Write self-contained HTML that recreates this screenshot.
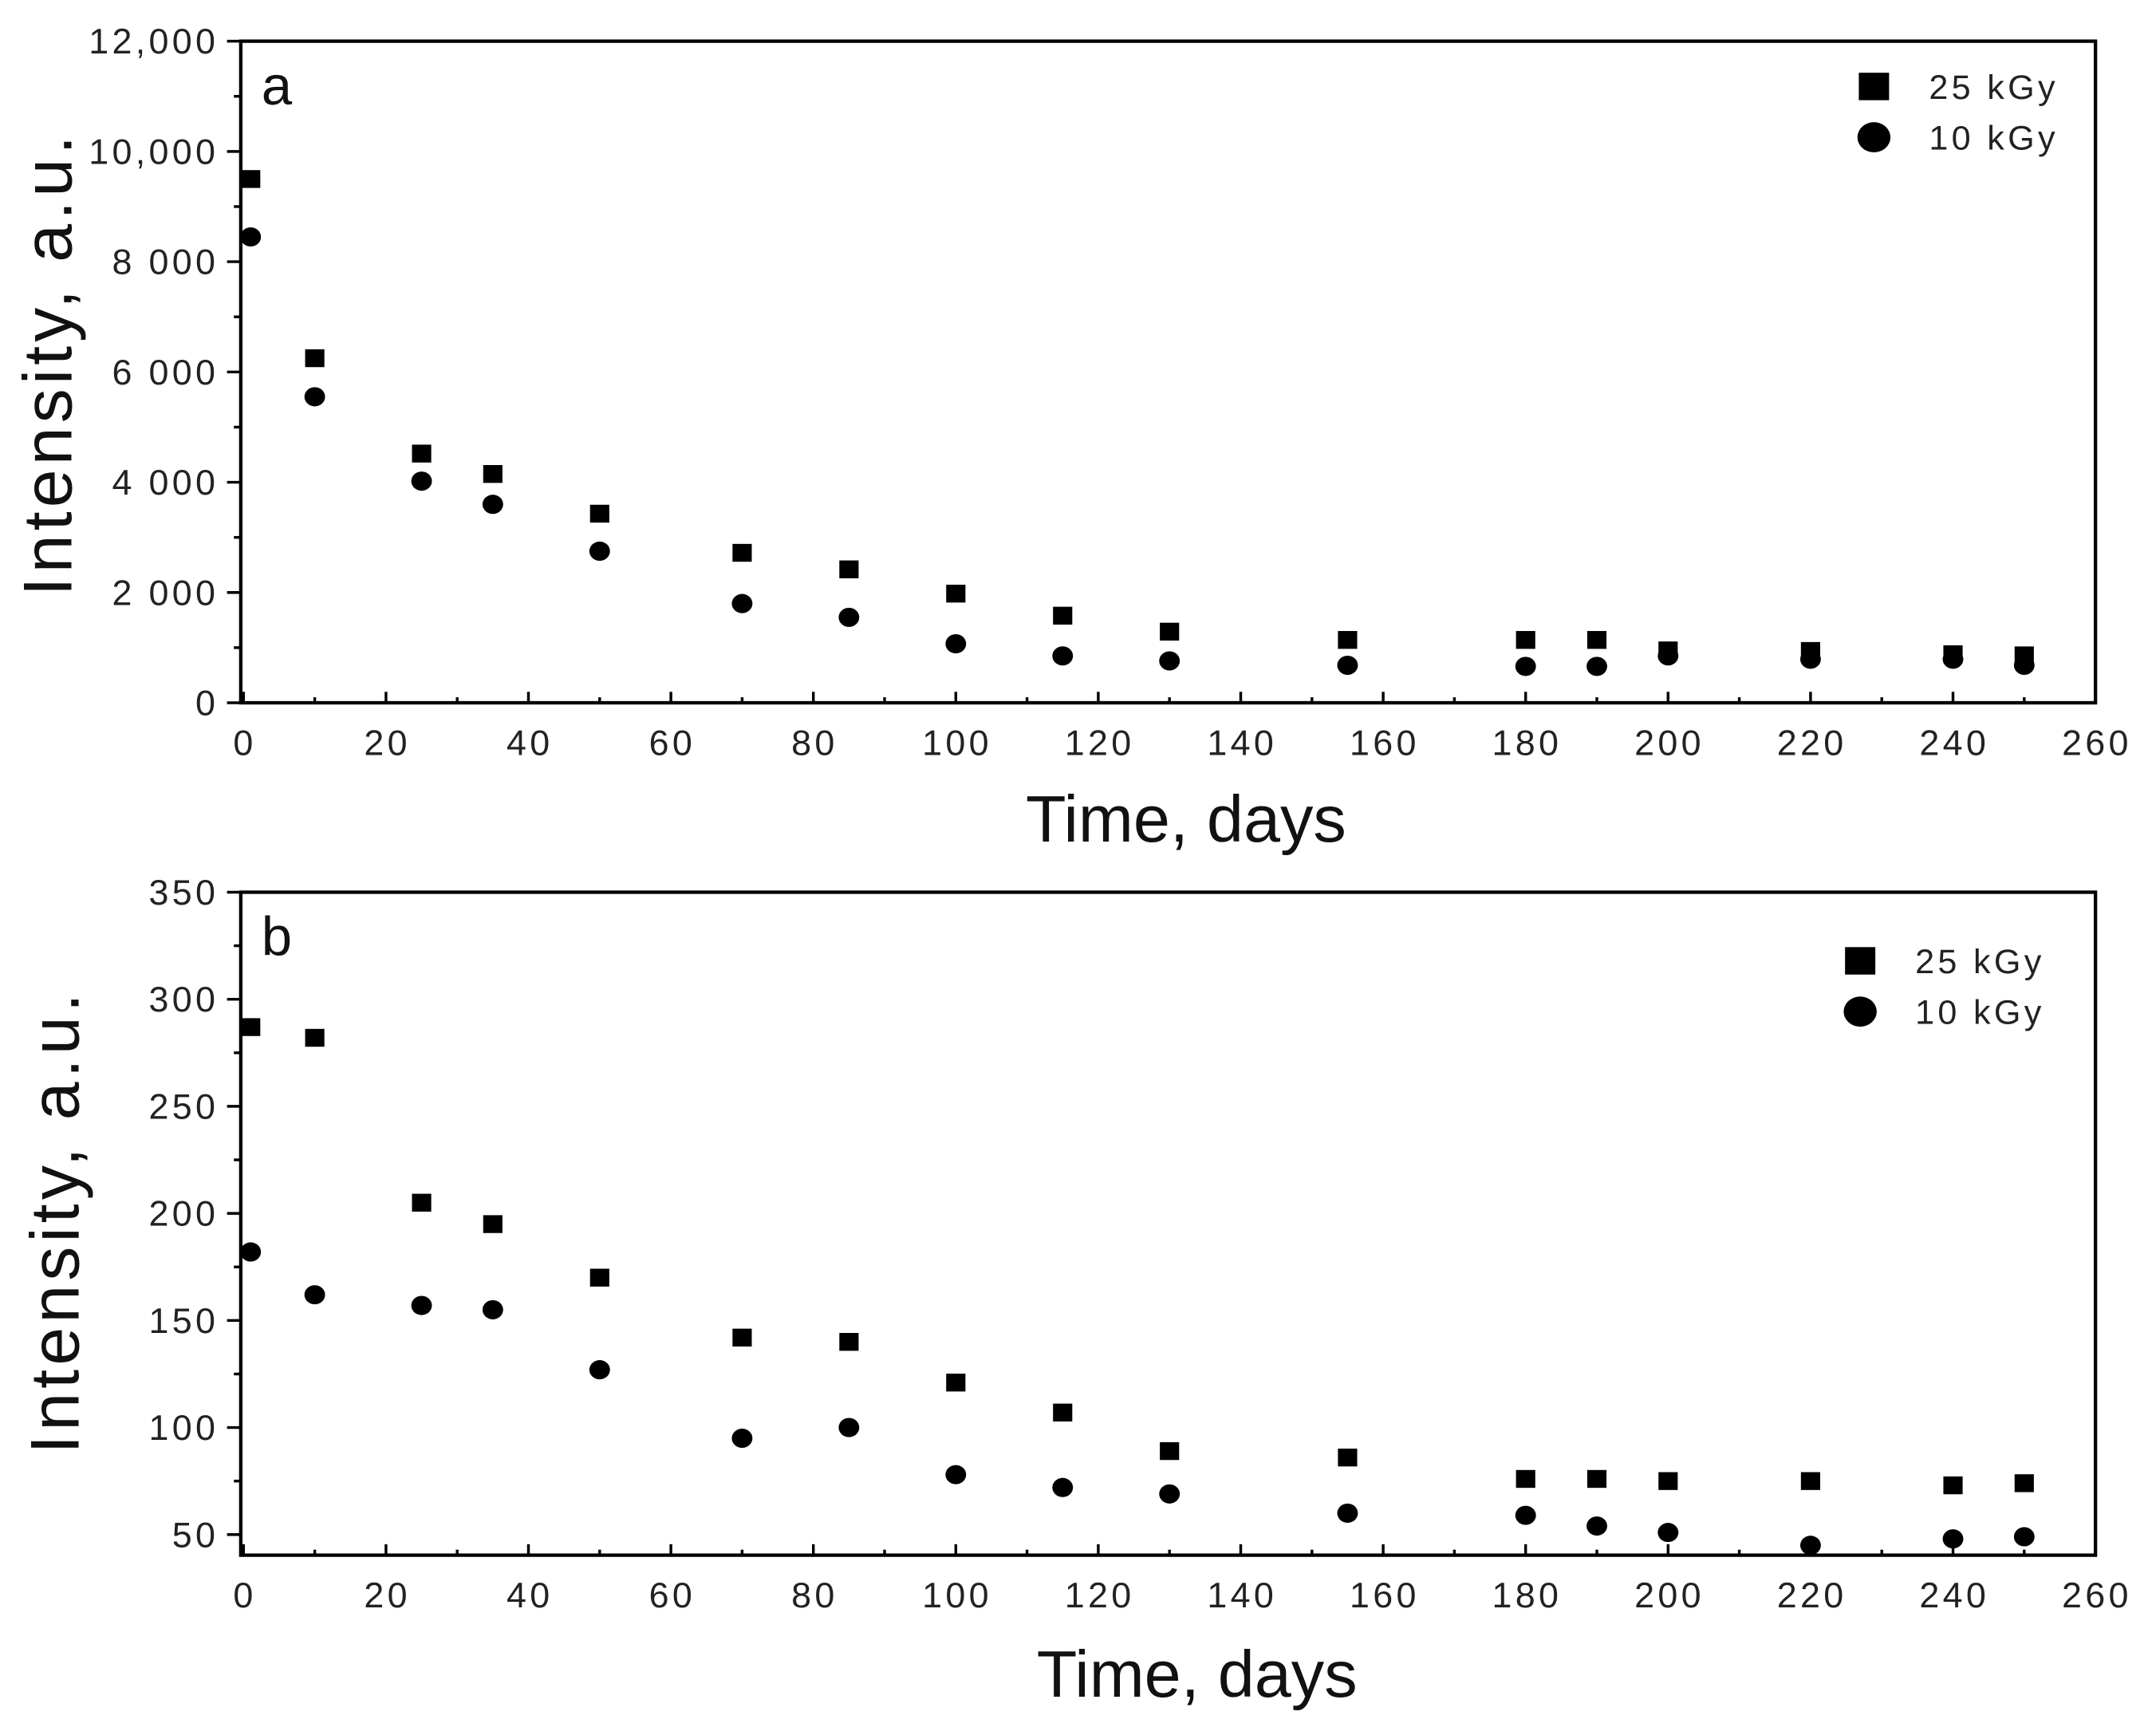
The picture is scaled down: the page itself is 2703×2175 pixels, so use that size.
<!DOCTYPE html>
<html><head><meta charset="utf-8"><style>
html,body{margin:0;padding:0;background:#fff;}
svg{display:block;font-family:"Liberation Sans",Arial,sans-serif;}
</style></head><body>
<svg id="chart" width="2703" height="2175" viewBox="0 0 1567 1264" preserveAspectRatio="none" xmlns="http://www.w3.org/2000/svg"></svg>
<script>
const days = [1,10,25,35,50,70,85,100,115,130,155,180,190,200,220,240,250];
const aHigh = [9500,6250,4520,4150,3430,2720,2420,1980,1580,1290,1140,1140,1140,950,940,880,860];
const aLow = [8450,5550,4020,3600,2750,1800,1550,1070,850,760,680,660,660,850,790,790,680];
const bHigh = [287,282,205,195,170,142,140,121,107,89,86,76,76,75,75,73,74];
const bLow = [182,162,157,155,127,95,100,78,72,69,60,59,54,51,45,48,49];
const xTicks = [0,20,40,60,80,100,120,140,160,180,200,220,240,260];
const aYTicks = [0,2000,4000,6000,8000,10000,12000];
const aYLabels = ["0","2 000","4 000","6 000","8 000","10,000","12,000"];
const bYTicks = [50,100,150,200,250,300,350];
const bYLabels = ["50","100","150","200","250","300","350"];

const NS = "http://www.w3.org/2000/svg";
const svg = document.getElementById('chart');
function mk(tag, attrs, parent, text){
  const e = document.createElementNS(NS, tag);
  for (const k in attrs) e.setAttribute(k, attrs[k]);
  if (text !== undefined) e.textContent = text;
  (parent||svg).appendChild(e);
  return e;
}

function panel(cfg){
  const g = mk('g', {});
  
  
  const L=175, R=1523, T=cfg.top, B=cfg.bottom;
  const xs = v => 177 + (v/260)*(1523-177);
  const ys = v => B - (v-cfg.ymin)/(cfg.ymax-cfg.ymin)*(B-T);
  const frame = mk('rect', {x:L, y:T, width:R-L, height:B-T, fill:'none', stroke:'#000', 'stroke-width':2.5}, g);
  
  
  for (let i=0;i<xTicks.length;i++){
    const v=xTicks[i], x=xs(v);
    mk('line',{x1:x,y1:B,x2:x,y2:B-8,stroke:'#000','stroke-width':2},g);
    if (i<xTicks.length-1){ const xm=xs(v+10); mk('line',{x1:xm,y1:B,x2:xm,y2:B-4,stroke:'#000','stroke-width':2},g); }
    const t = mk('text',{x:x+1,y:B+38,'font-size':26,'letter-spacing':2.5,'text-anchor':'middle',fill:'#222'},g,String(v));
    
    
  }
  for (let i=0;i<cfg.yTicks.length;i++){
    const v=cfg.yTicks[i], y=ys(v);
    mk('line',{x1:L,y1:y,x2:L-10,y2:y,stroke:'#000','stroke-width':2},g);
    if (i<cfg.yTicks.length-1){ const ym=ys((v+cfg.yTicks[i+1])/2); mk('line',{x1:L,y1:ym,x2:L-5,y2:ym,stroke:'#000','stroke-width':2},g); }
    const t = mk('text',{x:L-16,y:y+9,'font-size':26,'letter-spacing':2.5,'text-anchor':'end',fill:'#222'},g,cfg.yLabels[i]);
    
    
  }
  const xt = mk('text',{x:cfg.xtX,y:cfg.xtY,'font-size':48,'text-anchor':'middle',fill:'#111'},g,'Time, days');
  
  
  const yt = mk('text',{x:0,y:0,'font-size':50,'letter-spacing':3,'text-anchor':'middle',fill:'#111',transform:`translate(${cfg.ytX},${cfg.ytY}) rotate(-90)`},g,'Intensity, a.u.');
  
  
  const lt = mk('text',{x:190,y:T+46,'font-size':40,fill:'#111'},g,cfg.letter);
  
  
  for (let i=0;i<days.length;i++){
    const sq = mk('rect',{x:xs(days[i])-7,y:ys(cfg.high[i])-6.5,width:14,height:13,fill:'#000'},g);
    
    
    const c = mk('ellipse',{cx:xs(days[i]),cy:ys(cfg.low[i]),rx:7.5,ry:7,fill:'#000'},g);
    
    
  }
  const lg = mk('g',{},g);
  
  
  const lx=cfg.legX, ly=cfg.legY;
  const e1 = mk('g',{},lg);
  
  
  mk('rect',{x:lx-11,y:ly-10,width:22,height:20,fill:'#000'},e1);
  mk('text',{x:lx+40,y:ly+9,'font-size':25,'letter-spacing':2.5,fill:'#222'},e1,'25 kGy');
  const e2 = mk('g',{},lg);
  
  
  mk('ellipse',{cx:lx,cy:ly+37,rx:12,ry:11,fill:'#000'},e2);
  mk('text',{x:lx+40,y:ly+46,'font-size':25,'letter-spacing':2.5,fill:'#222'},e2,'10 kGy');
}

panel({name:'panel-a',top:30,bottom:512,ymin:0,ymax:12000,yTicks:aYTicks,yLabels:aYLabels,
  high:aHigh,low:aLow,letter:'a',xtX:862,xtY:613,ytX:52,ytY:265,legX:1362,legY:63});
panel({name:'panel-b',top:650,bottom:1133,ymin:350-483/1.56,ymax:350,yTicks:bYTicks,yLabels:bYLabels,
  high:bHigh,low:bLow,letter:'b',xtX:870,xtY:1236,ytX:57,ytY:890,legX:1352,legY:700});
</script>
</body></html>
